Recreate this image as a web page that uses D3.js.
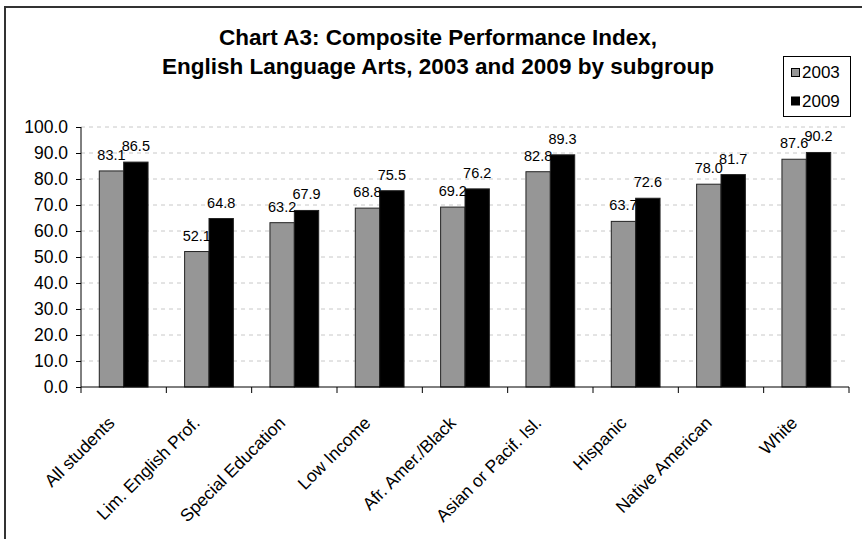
<!DOCTYPE html>
<html><head><meta charset="utf-8">
<script src="https://cdn.jsdelivr.net/npm/d3@7"></script>
<style>body{margin:0;background:#fff}svg{display:block}text{font-family:Arial,"Liberation Sans",sans-serif}</style>
</head><body>
<svg id="c" width="862" height="539"></svg>
<script>
const categories = ["All students","Lim. English Prof.","Special Education","Low Income","Afr. Amer./Black","Asian or Pacif. Isl.","Hispanic","Native American","White"];
const seriesNames = ["2003","2009"];
const values2003 = [83.1,52.1,63.2,68.8,69.2,82.8,63.7,78.0,87.6];
const values2009 = [86.5,64.8,67.9,75.5,76.2,89.3,72.6,81.7,90.2];
const yTicks = [0,10,20,30,40,50,60,70,80,90,100];
const titleLines = ["Chart A3: Composite Performance Index,","English Language Arts, 2003 and 2009 by subgroup"];
const colors = {"2003":"#969696","2009":"#000000"};

const svg = d3.select("#c");
const m = {left:81, right:849, top:127, bottom:387};

// outer border
svg.append("rect").attr("x",5).attr("y",7).attr("width",870).attr("height",545)
  .attr("fill","none").attr("stroke","#333").attr("stroke-width",2);

const x = d3.scaleBand().domain(categories).range([m.left,m.right]).padding(0);
const xs = d3.scaleBand().domain(seriesNames).range([0,x.bandwidth()]).paddingInner(0).paddingOuter(0.75);
const y = d3.scaleLinear().domain([0,100]).range([m.bottom,m.top]);

// gridlines
svg.append("g").selectAll("line").data(yTicks.filter(d=>d>0)).join("line")
  .attr("x1",m.left).attr("x2",m.right - 4).attr("y1",d=>y(d)).attr("y2",d=>y(d))
  .attr("stroke","#c8c8c8").attr("stroke-dasharray","4,4");

// bars
const data = categories.map((c,i)=>({c, vals:[{s:"2003",v:values2003[i]},{s:"2009",v:values2009[i]}]}));
const g = svg.append("g").selectAll("g").data(data).join("g").attr("transform",d=>`translate(${x(d.c)},0)`);
g.selectAll("rect").data(d=>d.vals).join("rect")
  .attr("x",d=>xs(d.s)).attr("width",xs.bandwidth())
  .attr("y",d=>y(d.v)).attr("height",d=>y(0)-y(d.v))
  .attr("fill",d=>colors[d.s]).attr("stroke","#222").attr("stroke-width",1);
g.selectAll("text").data(d=>d.vals).join("text")
  .attr("x",d=>xs(d.s)+xs.bandwidth()/2).attr("y",d=>y(d.v)-11)
  .attr("text-anchor","middle").attr("font-size",14.5).attr("fill","#000")
  .text(d=>d3.format(".1f")(d.v));

// y axis
const yAxis = svg.append("g").attr("transform",`translate(${m.left},0)`)
  .call(d3.axisLeft(y).tickValues(yTicks).tickFormat(d3.format(".1f")).tickSize(5).tickPadding(8));
yAxis.select(".domain").attr("stroke","#000").attr("d",`M-0,${m.top}V${m.bottom}`);
yAxis.selectAll("text").attr("font-size",17.5).attr("fill","#000").attr("font-family","Arial, Liberation Sans, sans-serif");
yAxis.selectAll("line").attr("stroke","#000");

// x axis line + ticks at band boundaries
svg.append("line").attr("x1",m.left).attr("x2",m.right).attr("y1",m.bottom).attr("y2",m.bottom).attr("stroke","#000");
const bounds = categories.map(c=>x(c)).concat([m.right]);
svg.append("g").selectAll("line").data(bounds).join("line")
  .attr("x1",d=>d).attr("x2",d=>d).attr("y1",m.bottom).attr("y2",m.bottom+6).attr("stroke","#000");
svg.append("g").selectAll("text").data(categories).join("text")
  .attr("transform",d=>`translate(${x(d)+x.bandwidth()/2-8},424) rotate(-45)`)
  .attr("text-anchor","end").attr("font-size",17.5).attr("fill","#000").text(d=>d);

// title
svg.append("g").selectAll("text").data(titleLines).join("text")
  .attr("x",438).attr("y",(d,i)=>45+i*29).attr("text-anchor","middle")
  .attr("font-size",22.5).attr("font-weight","bold").attr("fill","#000").text(d=>d);

// legend
const lg = svg.append("g");
lg.append("rect").attr("x",783.5).attr("y",56.5).attr("width",67).attr("height",60).attr("fill","#fff").attr("stroke","#000");
const li = lg.selectAll("g").data(seriesNames).join("g").attr("transform",(d,i)=>`translate(0,${i*28.5})`);
li.append("rect").attr("x",791.5).attr("y",68.5).attr("width",8).attr("height",8).attr("fill",d=>colors[d]).attr("stroke","#000");
li.append("text").attr("x",802).attr("y",78).attr("font-size",17).attr("fill","#000").text(d=>d);
</script>
</body></html>
